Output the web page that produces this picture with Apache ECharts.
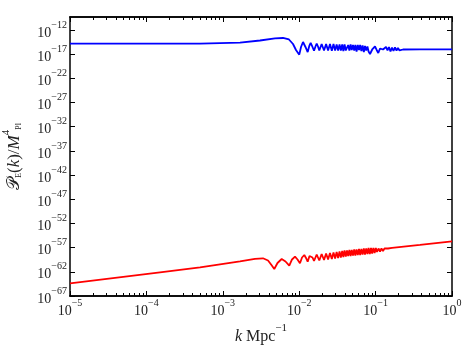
<!DOCTYPE html>
<html>
<head>
<meta charset="utf-8">
<script src="https://cdn.jsdelivr.net/npm/echarts@6/dist/echarts.min.js"></script>
<style>
html,body{margin:0;padding:0;background:#fff}
#main{width:463px;height:348px}
</style>
</head>
<body>
<div id="main"></div>
<script>
// log10 k (Mpc^-1) and log10 P_E/M_Pl^4
var blueLogK = [-5, -3.298, -2.775, -2.513, -2.317, -2.212, -2.134, -2.081, -2.042, -1.999,
    -1.976, -1.950, -1.918, -1.889, -1.868, -1.850, -1.826, -1.806, -1.787, -1.771,
    -1.754, -1.737, -1.706, -1.675, -1.648, -1.622, -1.597, -1.573, -1.551, -1.530,
    -1.510, -1.491, -1.472, -1.455, -1.437, -1.422, -1.406, -1.390, -1.374, -1.359,
    -1.343, -1.327, -1.312, -1.296, -1.280, -1.265, -1.249, -1.233, -1.217, -1.202,
    -1.186, -1.170, -1.154, -1.139, -1.123, -1.107, -1.092, -1.073, -1.041, -1.008,
    -0.986, -0.965, -0.942, -0.923, -0.903, -0.884, -0.864, -0.844, -0.825, -0.805,
    -0.785, -0.766, -0.746, -0.726, -0.707, -0.687, -0.668, -0.641, -0.419, 0];
var blueLogP = [-14.83, -14.83, -14.62, -14.17, -13.75, -13.65, -13.96, -14.89, -16.13, -17.10,
    -15.51, -14.48, -15.51, -16.55, -15.30, -14.68, -15.51, -16.28, -15.41, -14.79,
    -15.41, -16.23, -14.89, -16.23, -14.89, -16.23, -14.89, -16.28, -14.89, -16.23,
    -14.99, -16.23, -14.99, -16.23, -14.99, -16.34, -14.99, -16.23, -16.55, -15.10,
    -16.23, -14.99, -16.13, -15.10, -16.23, -15.10, -16.44, -15.10, -16.13, -15.10,
    -16.34, -15.20, -16.55, -15.30, -16.23, -15.41, -16.44, -16.96, -15.93, -15.41,
    -16.13, -16.75, -15.82, -15.41, -16.03, -16.34, -15.51, -16.23, -15.51, -16.44,
    -15.61, -16.34, -15.61, -16.23, -15.72, -16.23, -15.82, -16.03, -15.99, -15.99];

var redLogK = [-5, -3.822, -3.298, -2.775, -2.579, -2.474, -2.408, -2.363, -2.326, -2.284,
    -2.229, -2.179, -2.130, -2.094, -2.055, -2.022, -1.990, -1.963, -1.933, -1.911,
    -1.889, -1.865, -1.846, -1.826, -1.806, -1.771, -1.737, -1.706, -1.675, -1.648,
    -1.622, -1.597, -1.573, -1.551, -1.530, -1.510, -1.491, -1.472, -1.455, -1.437,
    -1.422, -1.406, -1.390, -1.374, -1.359, -1.343, -1.327, -1.312, -1.296, -1.280,
    -1.265, -1.249, -1.233, -1.217, -1.202, -1.186, -1.170, -1.154, -1.139, -1.123,
    -1.107, -1.092, -1.076, -1.060, -1.045, -1.029, -1.013, -0.997, -0.982, -0.962,
    -0.942, -0.923, -0.903, -0.884, -0.864, -0.838, -0.812, -0.785, -0.419, 0];
var redLogP = [-64.37, -62.10, -61.07, -59.85, -59.31, -59.20, -59.66, -60.59, -61.42, -60.18,
    -59.35, -59.87, -60.73, -59.45, -58.87, -59.45, -60.24, -59.04, -58.52, -59.14,
    -59.91, -58.73, -58.42, -59.04, -59.76, -58.42, -59.66, -58.32, -59.56, -58.21,
    -59.45, -58.11, -59.35, -58.00, -59.25, -57.90, -59.14, -57.80, -59.04, -57.69,
    -58.94, -57.59, -58.83, -57.59, -58.73, -57.49, -58.73, -57.49, -58.63, -57.38,
    -58.63, -57.38, -58.52, -57.28, -58.52, -57.28, -58.42, -57.18, -58.42, -57.18,
    -58.32, -57.07, -58.32, -57.07, -58.21, -57.07, -58.11, -57.07, -57.90, -57.18,
    -57.80, -57.18, -57.69, -57.18, -57.59, -57.18, -57.38, -57.07, -56.45, -55.69];

// tick positions (exponents)
var xMajor = [-5, -4, -3, -2, -1, 0];
var yMajor = [-67, -62, -57, -52, -47, -42, -37, -32, -27, -22, -17, -12];
var xMinor = [];
for (var d = -5; d < 0; d++) {
    for (var m = 2; m <= 9; m++) xMinor.push(d + Math.log10(m));
}

var chart = echarts.init(document.getElementById('main'));
var serif = '"Liberation Serif", "DejaVu Serif", serif';
var lineCol = '#000';

function pairs(ks, ps) {
    var out = [];
    for (var i = 0; i < ks.length; i++) out.push([ks[i], ps[i]]);
    return out;
}
function powLabel(v) {
    var n = Math.round(v);
    return '{b|10}{s|' + (n < 0 ? '\u2212' + (-n) : n) + '}';
}
var powRich = {
    b: {fontFamily: serif, fontSize: 14, color: '#222', lineHeight: 20, verticalAlign: 'bottom'},
    s: {fontFamily: serif, fontSize: 10, color: '#222', lineHeight: 14, verticalAlign: 'top'}
};

function xAx(pos, ticks, len, labels) {
    return {
        type: 'value', position: pos, min: -5, max: 0,
        axisLine: {show: true, onZero: false, lineStyle: {color: lineCol, width: 1.5}},
        axisTick: {show: true, inside: true, length: len, customValues: ticks,
            lineStyle: {color: lineCol, width: 1}},
        axisLabel: labels ? {show: true, customValues: ticks, margin: 2,
            formatter: powLabel, rich: powRich} : {show: false},
        splitLine: {show: false}
    };
}

var option = {
    backgroundColor: '#fff',
    animation: false,
    grid: {left: 70, right: 11, top: 17, bottom: 52, outerBoundsMode: 'none', containLabel: false},
    xAxis: [
        Object.assign(xAx('bottom', xMajor, 5, true), {
            name: '{i|k}{n| Mpc}{s|\u22121}',
            nameLocation: 'middle', nameGap: 14,
            nameTextStyle: {rich: {
                i: {fontFamily: serif, fontStyle: 'italic', fontSize: 16, color: '#222', lineHeight: 22, verticalAlign: 'bottom'},
                n: {fontFamily: serif, fontSize: 16, color: '#222', lineHeight: 22, verticalAlign: 'bottom'},
                s: {fontFamily: serif, fontSize: 11, color: '#222', lineHeight: 14, verticalAlign: 'top'}
            }}
        }),
        xAx('bottom', xMinor, 3, false),
        xAx('top', xMajor, 5, false),
        xAx('top', xMinor, 3, false)
    ],
    yAxis: [
        {
            type: 'value', position: 'left', min: -67, max: -9.31,
            axisLine: {show: true, onZero: false, lineStyle: {color: lineCol, width: 1.5}},
            axisTick: {show: true, inside: true, length: 5, customValues: yMajor,
                lineStyle: {color: lineCol, width: 1}},
            axisLabel: {show: true, customValues: yMajor, margin: 3,
                formatter: powLabel, rich: powRich},
            splitLine: {show: false},
            name: '{c|\uD835\uDCAB}{sc|E}{n|(}{i|k}{n|)/}{i|M}{sup|4}{sc|Pl}',
            nameLocation: 'middle', nameRotate: 90, nameGap: 47,
            nameTextStyle: {rich: {
                c: {fontFamily: '"DejaVu Serif", "DejaVu Sans", serif', fontSize: 17, color: '#222', lineHeight: 22, verticalAlign: 'bottom'},
                n: {fontFamily: serif, fontSize: 17, color: '#222', lineHeight: 22, verticalAlign: 'bottom'},
                i: {fontFamily: serif, fontStyle: 'italic', fontSize: 17, color: '#222', lineHeight: 22, verticalAlign: 'bottom'},
                sc: {fontFamily: serif, fontSize: 8, color: '#222', lineHeight: 22, verticalAlign: 'bottom'},
                sup: {fontFamily: serif, fontSize: 11, color: '#222', lineHeight: 14, verticalAlign: 'top'}
            }}
        },
        {
            type: 'value', position: 'right', min: -67, max: -9.31,
            axisLine: {show: true, onZero: false, lineStyle: {color: lineCol, width: 1.5}},
            axisTick: {show: true, inside: true, length: 5, customValues: yMajor,
                lineStyle: {color: lineCol, width: 1}},
            axisLabel: {show: false},
            splitLine: {show: false}
        }
    ],
    series: [
        {
            type: 'line', xAxisIndex: 0, yAxisIndex: 0,
            showSymbol: false, silent: true,
            lineStyle: {color: '#0000ff', width: 1.8},
            data: pairs(blueLogK, blueLogP)
        },
        {
            type: 'line', xAxisIndex: 0, yAxisIndex: 0,
            showSymbol: false, silent: true,
            lineStyle: {color: '#ff0000', width: 1.8},
            data: pairs(redLogK, redLogP)
        }
    ]
};
chart.setOption(option);
</script>
</body>
</html>
